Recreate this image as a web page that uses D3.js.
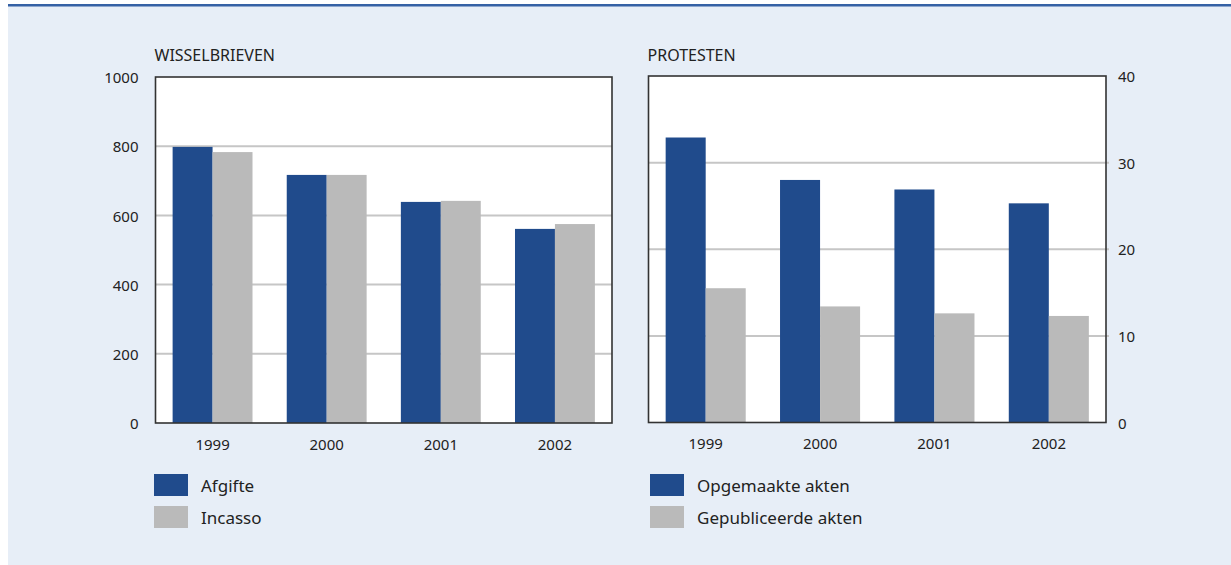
<!DOCTYPE html>
<html>
<head>
<meta charset="utf-8">
<script src="https://cdn.jsdelivr.net/npm/d3@7"></script>
<style>
  body { margin: 0; background: #fff; }
  svg { display: block; font-family: "Noto Sans", "Open Sans", sans-serif; }
</style>
</head>
<body>
<svg width="1231" height="565"></svg>
<script>
const years = ["1999", "2000", "2001", "2002"]
const afgifte = [798, 717, 639, 561]
const incasso = [783, 717, 642, 575]
const opgemaakt = [32.9, 28.0, 26.9, 25.3]
const gepubliceerd = [15.5, 13.4, 12.6, 12.3]
const leftTicks = [0, 200, 400, 600, 800, 1000]
const rightTicks = [0, 10, 20, 30, 40]

const blue = "#204b8c"
const grey = "#bababa"
const font = '"Noto Sans", "Open Sans", sans-serif'

const svg = d3.select("svg")

// background panel + top rule
svg.append("rect").attr("x", 8).attr("y", 6).attr("width", 1223).attr("height", 559).attr("fill", "#e7eef7")
svg.append("rect").attr("x", 8).attr("y", 4).attr("width", 1223).attr("height", 2.5).attr("fill", "#3561a5")

function styleAxis(sel){
    sel.attr("font-family", font).attr("font-size", 15)
    sel.select(".domain").remove()
    sel.selectAll("text").attr("fill", "#222")
}

function drawPanel(opts){
    const x = d3.scaleBand().domain(years).range([opts.x0, opts.x1]).paddingInner(0.3).paddingOuter(0.15)
    const y = d3.scaleLinear().domain([0, opts.max]).range([opts.y0, opts.y1])
    const sub = d3.scaleBand().domain([0, 1]).range([0, x.bandwidth()])

    const g = svg.append("g")

    g.append("rect")
        .attr("x", opts.x0).attr("y", opts.y1)
        .attr("width", opts.x1 - opts.x0).attr("height", opts.y0 - opts.y1)
        .attr("fill", "#fff")

    // gridlines
    g.selectAll("line.grid")
        .data(opts.ticks.filter(t => t > 0 && t < opts.max))
        .enter()
        .append("line")
        .attr("class", "grid")
        .attr("x1", opts.x0)
        .attr("x2", opts.right ? opts.x1 + 3 : opts.x1)
        .attr("y1", d => y(d)).attr("y2", d => y(d))
        .attr("stroke", "#c6c6c6").attr("stroke-width", 2)

    const rows = years.map((yr, i) => ({year: yr, vals: [opts.a[i], opts.b[i]]}))
    g.selectAll("g.grp")
        .data(rows)
        .enter()
        .append("g")
        .attr("transform", d => "translate(" + x(d.year) + ",0)")
        .selectAll("rect")
        .data(d => d.vals)
        .enter()
        .append("rect")
        .attr("x", (d, i) => sub(i))
        .attr("width", sub.bandwidth())
        .attr("y", d => y(d))
        .attr("height", d => opts.y0 - y(d))
        .attr("fill", (d, i) => i === 0 ? blue : grey)

    // frame
    g.append("rect")
        .attr("x", opts.x0).attr("y", opts.y1)
        .attr("width", opts.x1 - opts.x0).attr("height", opts.y0 - opts.y1)
        .attr("fill", "none").attr("stroke", "#333").attr("stroke-width", 1.6)

    const yAxis = opts.right
        ? d3.axisRight(y).tickValues(opts.ticks).tickFormat(d3.format("d")).tickSize(0).tickPadding(12)
        : d3.axisLeft(y).tickValues(opts.ticks).tickFormat(d3.format("d")).tickSize(0).tickPadding(17)
    g.append("g")
        .attr("transform", "translate(" + (opts.right ? opts.x1 : opts.x0) + ",0)")
        .call(yAxis)
        .call(styleAxis)
        .selectAll("text").attr("dy", "0.38em")

    g.append("g")
        .attr("transform", "translate(0," + opts.y0 + ")")
        .call(d3.axisBottom(x).tickSize(0).tickPadding(16))
        .call(styleAxis)

    g.append("text")
        .attr("x", opts.x0 - 1).attr("y", 61)
        .attr("font-size", 16).attr("fill", "#222")
        .text(opts.title)

    const leg = g.selectAll("g.leg")
        .data(opts.legend)
        .enter()
        .append("g")
        .attr("transform", (d, i) => "translate(" + opts.legX + "," + (474 + i * 32) + ")")
    leg.append("rect").attr("width", 34).attr("height", 22).attr("fill", (d, i) => i === 0 ? blue : grey)
    leg.append("text").attr("x", 47).attr("y", 18).attr("font-size", 17).attr("fill", "#222").text(d => d)
}

drawPanel({
    title: "WISSELBRIEVEN",
    x0: 155.5, x1: 612, y0: 423, y1: 77, max: 1000,
    ticks: leftTicks, a: afgifte, b: incasso, right: false,
    legX: 154, legend: ["Afgifte", "Incasso"]
})

drawPanel({
    title: "PROTESTEN",
    x0: 648.5, x1: 1106, y0: 422.5, y1: 76, max: 40,
    ticks: rightTicks, a: opgemaakt, b: gepubliceerd, right: true,
    legX: 650, legend: ["Opgemaakte akten", "Gepubliceerde akten"]
})
</script>
</body>
</html>
